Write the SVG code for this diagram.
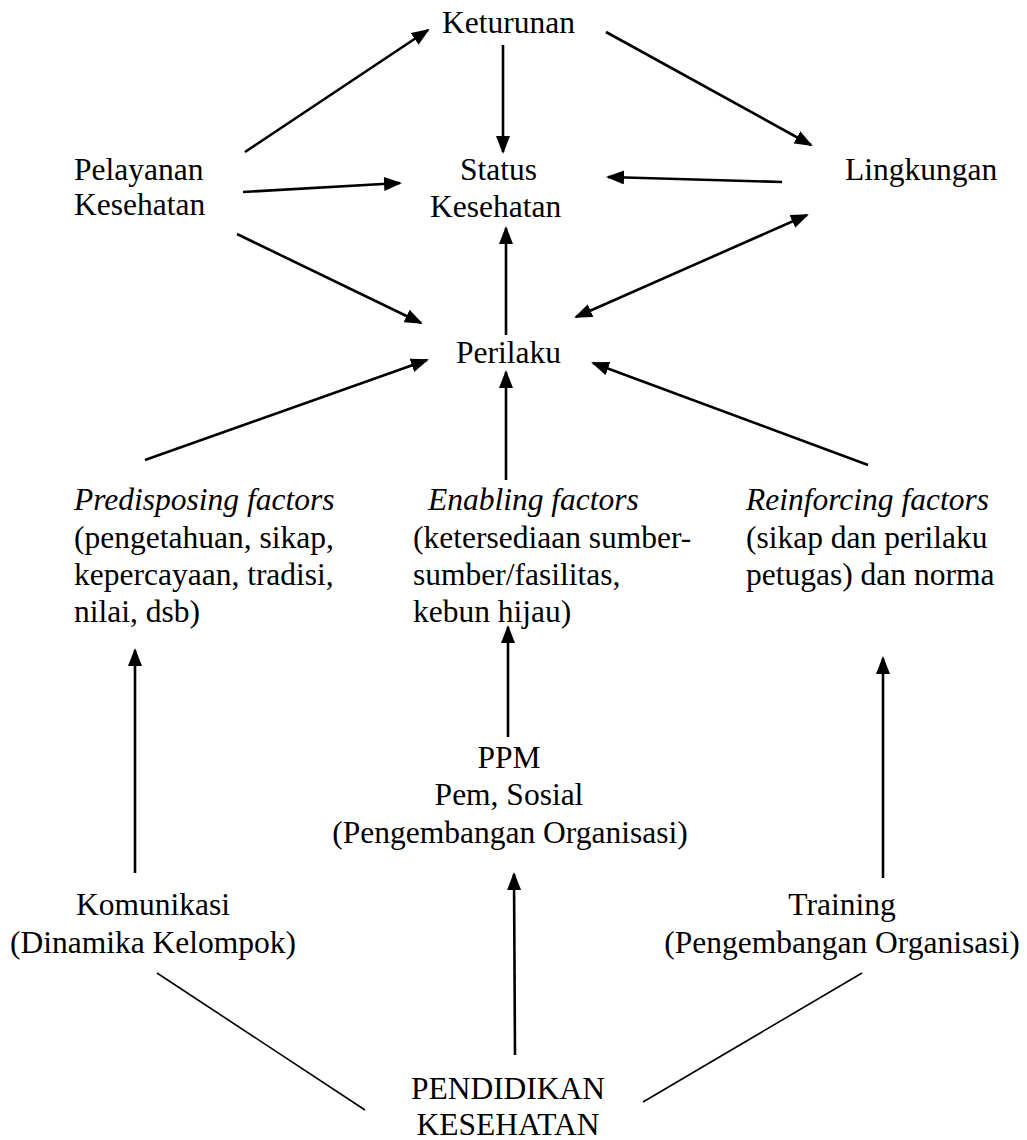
<svg xmlns="http://www.w3.org/2000/svg" width="1027" height="1140" viewBox="0 0 1027 1140">
<defs>
<style>
text{font-family:"Liberation Serif","Times New Roman",serif;font-size:31.5px;fill:#000}
.it{font-style:italic}
.mid{text-anchor:middle}
.arr{stroke:#000;stroke-width:2.6;fill:none;marker-end:url(#ah)}
.dbl{stroke:#000;stroke-width:2.6;fill:none;marker-end:url(#ah);marker-start:url(#ah)}
.ln{stroke:#000;stroke-width:1.6;fill:none}
</style>
<marker id="ah" viewBox="0 0 18 14" refX="16" refY="7" markerWidth="18" markerHeight="14" markerUnits="userSpaceOnUse" orient="auto-start-reverse">
<path d="M0,0 L18,7 L0,14 z" fill="#000"/>
</marker>
</defs>
<rect width="1027" height="1140" fill="#fff"/>
<g id="connectors">
<line class="arr" x1="245" y1="152" x2="428" y2="30"/>
<line class="arr" x1="503" y1="45" x2="503" y2="152"/>
<line class="arr" x1="606" y1="32" x2="811" y2="145"/>
<line class="arr" x1="243" y1="192" x2="400" y2="183"/>
<line class="arr" x1="782" y1="182" x2="608" y2="177"/>
<line class="arr" x1="237" y1="234" x2="421" y2="323"/>
<line class="arr" x1="506" y1="335" x2="506" y2="228"/>
<line class="dbl" x1="576" y1="317" x2="807" y2="215"/>
<line class="arr" x1="145" y1="460" x2="427" y2="360"/>
<line class="arr" x1="506" y1="480" x2="506" y2="372"/>
<line class="arr" x1="868" y1="465" x2="593" y2="363"/>
<line class="arr" x1="135" y1="873" x2="135" y2="650"/>
<line class="arr" x1="508" y1="737" x2="508" y2="627"/>
<line class="arr" x1="883" y1="878" x2="883" y2="658"/>
<line class="arr" x1="515" y1="1055" x2="514" y2="874"/>
<line class="ln" x1="157" y1="973" x2="365" y2="1110"/>
<line class="ln" x1="643" y1="1102" x2="862" y2="973"/>
</g>
<g id="keturunan"><text x="442" y="33">Keturunan</text></g>
<g id="pelayanan"><text x="74" y="180">Pelayanan</text><text x="74" y="215">Kesehatan</text></g>
<g id="status"><text x="460" y="180">Status</text><text x="430" y="217">Kesehatan</text></g>
<g id="lingkungan"><text x="845" y="180">Lingkungan</text></g>
<g id="perilaku"><text x="456" y="363">Perilaku</text></g>
<g id="predisposing">
<text x="74" y="510" class="it">Predisposing factors</text>
<text x="74" y="548">(pengetahuan, sikap,</text>
<text x="74" y="585">kepercayaan, tradisi,</text>
<text x="74" y="622">nilai, dsb)</text>
</g>
<g id="enabling">
<text x="428" y="510" class="it">Enabling factors</text>
<text x="413" y="548">(ketersediaan sumber-</text>
<text x="413" y="585">sumber/fasilitas,</text>
<text x="413" y="622">kebun hijau)</text>
</g>
<g id="reinforcing">
<text x="746" y="510" class="it">Reinforcing factors</text>
<text x="746" y="548">(sikap dan perilaku</text>
<text x="746" y="585">petugas) dan norma</text>
</g>
<g id="ppm">
<text x="509" y="768" class="mid">PPM</text>
<text x="509" y="805" class="mid">Pem, Sosial</text>
<text x="510" y="843" class="mid">(Pengembangan Organisasi)</text>
</g>
<g id="komunikasi">
<text x="153" y="915" class="mid">Komunikasi</text>
<text x="153" y="953" class="mid">(Dinamika Kelompok)</text>
</g>
<g id="training">
<text x="842" y="915" class="mid">Training</text>
<text x="842" y="953" class="mid">(Pengembangan Organisasi)</text>
</g>
<g id="pendidikan">
<text x="508" y="1099" class="mid">PENDIDIKAN</text>
<text x="508" y="1135" class="mid">KESEHATAN</text>
</g>
</svg>
